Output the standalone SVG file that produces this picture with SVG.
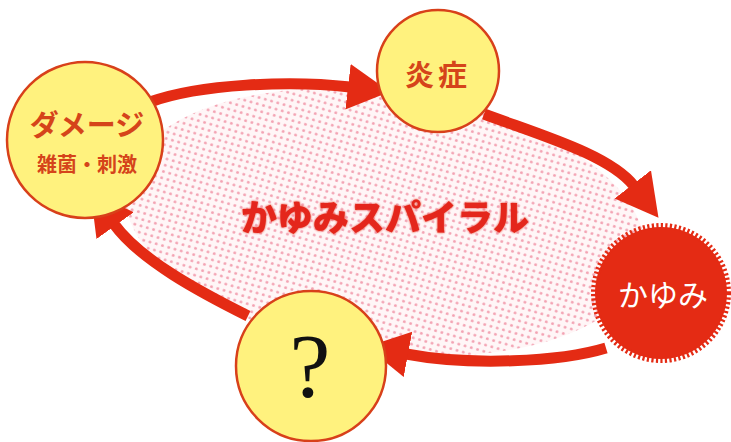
<svg xmlns="http://www.w3.org/2000/svg" width="731" height="442" viewBox="0 0 731 442">
  <defs>
    <style>
      .node { fill: #FFF27E; stroke: #D8401A; stroke-width: 2.5; }
      .conn { fill: none; stroke: #E42B14; stroke-width: 11; }
      .jp { font-family: "Noto Sans CJK JP", "Noto Sans", sans-serif; }
      .lbl { fill: #D5441A; font-weight: bold; text-anchor: middle; }
    </style>
    <pattern id="dots" width="6.5" height="6.5" patternUnits="userSpaceOnUse" patternTransform="rotate(8)">
      <rect width="6.5" height="6.5" fill="#FFF6F7"/>
      <circle cx="3.25" cy="3.25" r="1.5" fill="#F3A3B3"/>
    </pattern>
    <marker id="head" markerUnits="userSpaceOnUse" markerWidth="50" markerHeight="60" refX="2" refY="0" viewBox="0 -30 50 60" orient="auto">
      <path d="M0,-23 L42,0 L0,23 z" fill="#E42B14"/>
    </marker>
    <filter id="soft" x="-5%" y="-20%" width="110%" height="140%">
      <feGaussianBlur in="SourceGraphic" stdDeviation="1.3" result="b"/>
      <feMerge><feMergeNode in="b"/><feMergeNode in="SourceGraphic"/></feMerge>
    </filter>
  </defs>
  <rect width="731" height="442" fill="#FFFFFF"/>

  <g id="spiral-area">
    <ellipse cx="385" cy="222" rx="262" ry="130" transform="rotate(8 385 222)" fill="url(#dots)"/>
    <text class="jp" x="385" y="231" font-size="36" font-weight="900" fill="#E4281A" text-anchor="middle" filter="url(#soft)">かゆみスパイラル</text>
  </g>

  <g id="connectors">
    <path class="conn" d="M150,102 C200,84 290,80 350,87" marker-end="url(#head)"/>
    <path class="conn" d="M484,114 C540,135 610,155 634,186" marker-end="url(#head)"/>
    <path class="conn" d="M606,348 C560,362 470,366 406,354" marker-end="url(#head)"/>
    <path class="conn" d="M248,316 C200,292 140,260 114,224" marker-end="url(#head)"/>
  </g>

  <g id="damage">
    <circle class="node" cx="85" cy="140" r="78"/>
    <text class="jp lbl" x="87" y="136" font-size="29">ダメージ</text>
    <text class="jp lbl" x="87" y="172" font-size="20">雑菌・刺激</text>
  </g>

  <g id="inflammation">
    <circle class="node" cx="438" cy="71" r="61"/>
    <text class="jp lbl" x="438" y="86" font-size="29" letter-spacing="4">炎症</text>
  </g>

  <g id="itch">
    <circle cx="661" cy="293" r="66" fill="#E42B14"/>
    <circle cx="661" cy="293" r="67" fill="none" stroke="#E42B14" stroke-width="6" stroke-dasharray="2.2 2.3"/>
    <text class="jp" x="663" y="306" font-size="30" fill="#FFFFFF" text-anchor="middle">かゆみ</text>
  </g>

  <g id="unknown">
    <circle class="node" cx="311" cy="366" r="75"/>
    <text x="310" y="397" font-family="Liberation Serif, serif" font-size="92" fill="#111111" text-anchor="middle">?</text>
  </g>
</svg>
